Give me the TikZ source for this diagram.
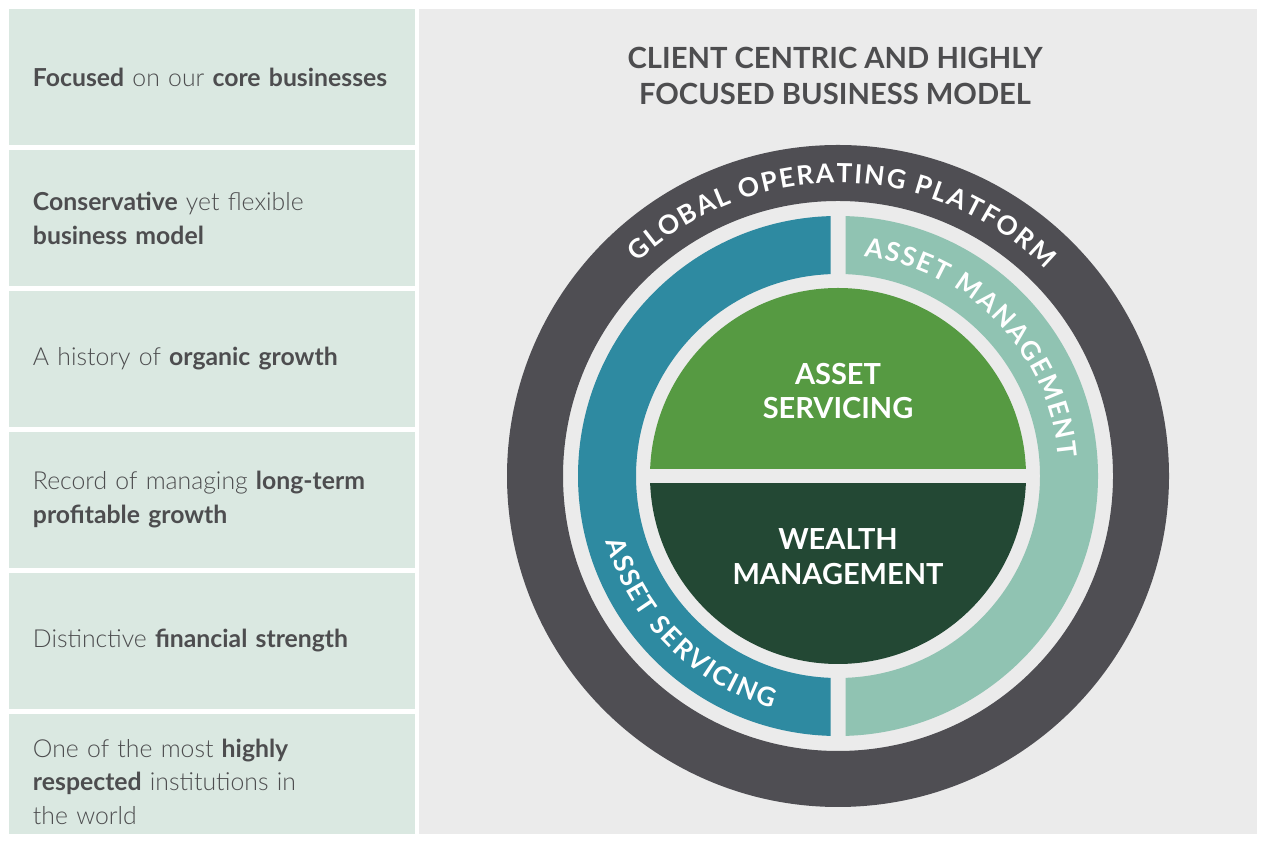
\documentclass[tikz,border=0pt]{standalone}
\usepackage{fontspec}
\setmainfont{Lato}[UprightFont=* Light, BoldFont=* Bold]
\newfontfamily\ringfont{Lato Bold}[Scale=1.5]
\usetikzlibrary{positioning,decorations.text}

\definecolor{panelgray}{HTML}{EBEBEB}
\definecolor{boxmint}{HTML}{DAE8E1}
\definecolor{textgray}{HTML}{4D4D4F}
\definecolor{platform}{HTML}{4F4E53}
\definecolor{servblue}{HTML}{2E8AA1}
\definecolor{mgmtteal}{HTML}{90C3B2}
\definecolor{servgreen}{HTML}{569A42}
\definecolor{wealthgreen}{HTML}{234834}

\begin{document}
\begin{tikzpicture}[x=0.02cm, y=0.02cm, node distance=0.1cm]
\tikzset{
    %Define style for the boxes on the left
    pointbox/.style={
           rectangle,
           fill=boxmint,
           outer sep=0pt,
           text width=7.16cm,
           inner xsep=0.48cm,
           minimum height=2.72cm,
           align=left,
           text=textgray,
           font=\fontsize{14.1}{19.3}\selectfont},
    % Define style for the labels inside the circle
    corelabel/.style={
           align=center,
           text=white,
           font=\bfseries\fontsize{16.5}{19.8}\selectfont},
    % Define style for text on the rings
    ringtext/.style={
           decorate,
           decoration={text effects along path,
                       text={#1},
                       text align=center,
                       text effects/.cd,
                       characters={text along path, text=white, font=\ringfont},
                       character widths={inner xsep=0.5pt, font=\ringfont}}}
}
 \fill[white] (0,0) rectangle (1263,844);
 \useasboundingbox (0,0) rectangle (1263,844);
 \fill[panelgray] (419,10) rectangle (1257,835);

 %boxes on the left
 \begin{scope}
 \clip (0,10) rectangle (419,844);
 \node[pointbox, anchor=north west] (focus) at (9,835)
   {\textbf{Focused} on our \textbf{core businesses}};
 \node[pointbox, below=of focus] (conservative)
   {\textbf{Conservative} yet flexible\\ \textbf{business model}};
 \node[pointbox, below=of conservative] (organic)
   {A history of \textbf{organic growth}};
 \node[pointbox, below=of organic] (record)
   {Record of managing \textbf{long-term}\\ \textbf{profitable growth}};
 \node[pointbox, below=of record] (strength)
   {Distinctive \textbf{financial strength}};
 \node[pointbox, below=of strength] (respected)
   {One of the most \textbf{highly}\\ \textbf{respected} institutions in\\ the world};
 \end{scope}

 %title
 \node[align=center, text=textgray, font=\bfseries\fontsize{16.6}{20.4}\selectfont]
   (title) at (835,768) {CLIENT CENTRIC AND HIGHLY\\ FOCUSED BUSINESS MODEL};

 %rings
 \coordinate (c) at (838,368);
 \fill[platform, even odd rule] (c) circle[radius=331] (c) circle[radius=275];
 \begin{scope}
 \clip (500,0) rectangle (830.5,844);
 \fill[servblue, even odd rule] (c) circle[radius=260] (c) circle[radius=202];
 \end{scope}
 \begin{scope}
 \clip (845.5,0) rectangle (1200,844);
 \fill[mgmtteal, even odd rule] (c) circle[radius=260] (c) circle[radius=202];
 \end{scope}
 \begin{scope}
 \clip (600,375.5) rectangle (1100,600);
 \fill[servgreen] (c) circle[radius=188];
 \end{scope}
 \begin{scope}
 \clip (600,100) rectangle (1100,360.5);
 \fill[wealthgreen] (c) circle[radius=188];
 \end{scope}

 %labels
 \node[corelabel] (servicing) at (838,453) {ASSET\\ SERVICING};
 \node[corelabel] (wealth) at (838,287) {WEALTH\\ MANAGEMENT};
 \path[ringtext=GLOBAL OPERATING PLATFORM]
   (c) ++(140:293) arc[start angle=140, end angle=38, radius=293];
 \path[ringtext=ASSET MANAGEMENT]
   (c) ++(94:221) arc[start angle=94, end angle=-6, radius=221];
 \path[ringtext=ASSET SERVICING]
   (c) ++(185:241) arc[start angle=185, end angle=265, radius=241];
\end{tikzpicture}
\end{document}
